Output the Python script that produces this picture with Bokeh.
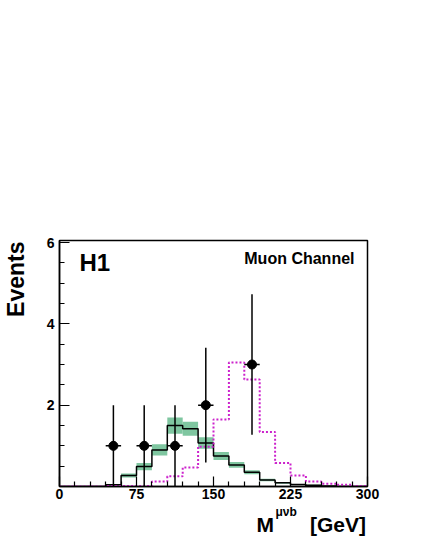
import math
from bokeh.plotting import figure
from bokeh.models import Range1d, FixedTicker, Label
from bokeh.layouts import row, column
from bokeh.embed import file_html
from bokeh.resources import INLINE

# ---- data ----
bin_edges = [0, 15, 30, 45, 60, 75, 90, 105, 120, 135, 150, 165, 180, 195, 210, 225, 240, 255, 270, 285, 300]
sm_values = [0.0, 0.0, 0.0, 0.04, 0.27, 0.49, 0.90, 1.50, 1.42, 1.07, 0.75, 0.53, 0.35, 0.16, 0.09, 0.05, 0.03, 0.01, 0.0, 0.0]
sm_errors = [0.0, 0.0, 0.0, 0.01, 0.05, 0.09, 0.14, 0.20, 0.17, 0.14, 0.10, 0.07, 0.05, 0.03, 0.02, 0.01, 0.01, 0.0, 0.0, 0.0]
sig_values = [0.0, 0.0, 0.0, 0.01, 0.01, 0.01, 0.12, 0.25, 0.47, 0.98, 1.65, 3.05, 2.63, 1.34, 0.58, 0.27, 0.12, 0.07, 0.04, 0.01]
data_x = [52.5, 82.5, 112.5, 142.5, 187.5]
data_y = [1, 1, 1, 2, 3]
data_err_lo = [1.0, 1.0, 1.0, 1.41, 1.73]
data_err_hi = [1.0, 1.0, 1.0, 1.41, 1.73]
bin_half = 7.5
x_major = [0, 75, 150, 225, 300]
x_minor = [15, 30, 45, 60, 90, 105, 120, 135, 165, 180, 195, 210, 240, 255, 270, 285]
y_major = [2, 4, 6]
y_minor = [0.5, 1, 1.5, 2.5, 3, 3.5, 4.5, 5, 5.5]

X0, X1 = 0, 300
Y0, Y1 = 0, 6.05
F = "Liberation Sans"

TOTAL_H = 537
LEFT_W = 30
MAIN_W = 381
MAIN_H = 504
STRIP_H = TOTAL_H - MAIN_H

p = figure(width=MAIN_W, height=MAIN_H, output_backend="svg", toolbar_location=None,
           x_range=Range1d(X0, X1), y_range=Range1d(Y0, Y1),
           min_border_left=29, min_border_right=44, min_border_top=240, min_border_bottom=18)
p.xgrid.visible = False
p.ygrid.visible = False
p.outline_line_color = "black"
p.outline_line_width = 1.5
p.background_fill_color = "white"
p.border_fill_color = "white"

# green band
lefts = bin_edges[:-1]
rights = bin_edges[1:]
bots = [v - e for v, e in zip(sm_values, sm_errors)]
tops = [v + e for v, e in zip(sm_values, sm_errors)]
p.quad(left=lefts, right=rights, bottom=bots, top=tops, fill_color="#7fc6a0", line_color=None)

# SM histogram
p.step(x=bin_edges, y=sm_values + [sm_values[-1]], mode="after", line_color="black", line_width=1.5)
# signal histogram
p.step(x=bin_edges, y=sig_values + [sig_values[-1]], mode="after", line_color="#cc22cc",
       line_width=2, line_dash="2 2")

# data with errors
p.segment(x0=data_x, x1=data_x, y0=[y - e for y, e in zip(data_y, data_err_lo)],
          y1=[y + e for y, e in zip(data_y, data_err_hi)], line_color="black", line_width=1.5)
p.segment(x0=[x - bin_half for x in data_x], x1=[x + bin_half for x in data_x], y0=data_y, y1=data_y,
          line_color="black", line_width=1.5)
p.scatter(data_x, data_y, size=9, color="black")

# axes
for ax in (p.xaxis[0], p.yaxis[0]):
    ax.major_tick_in = 10
    ax.major_tick_out = 0
    ax.minor_tick_in = 5
    ax.minor_tick_out = 0
    ax.axis_line_width = 1.5
    ax.major_tick_line_width = 1.2
    ax.minor_tick_line_width = 1.2
    ax.major_label_text_font = F
    ax.major_label_text_font_style = "bold"
    ax.major_label_text_font_size = "14px"
    ax.major_label_text_color = "black"
p.xaxis.ticker = FixedTicker(ticks=x_major, minor_ticks=x_minor)
p.yaxis.ticker = FixedTicker(ticks=y_major, minor_ticks=y_minor)
p.xaxis.major_label_standoff = 2
p.yaxis.major_label_standoff = 5


def lab(fig, x, y, text, size, align="left", angle=0.0):
    fig.add_layout(Label(x=x, y=y, x_units="screen", y_units="screen", text=text, angle=angle,
                         text_align=align, text_baseline="middle", text_font=F,
                         text_font_style="bold", text_font_size=size, text_color="black"))


def strip(w, h):
    f = figure(width=w, height=h, output_backend="svg", toolbar_location=None,
               x_axis_location=None, y_axis_location=None,
               min_border_left=0, min_border_right=0, min_border_top=0, min_border_bottom=0,
               x_range=Range1d(0, 1), y_range=Range1d(0, 1))
    f.grid.visible = False
    f.outline_line_color = None
    f.background_fill_color = "white"
    f.border_fill_color = "white"
    return f


# in-frame texts
lab(p, 20, 224, "H1", "24px")
lab(p, 295, 228, "Muon Channel", "16px", align="right")

# left strip: y-axis title
left = strip(LEFT_W, TOTAL_H)
lab(left, 15.5, TOTAL_H - 241, "Events", "23px", align="right", angle=math.pi / 2)

# bottom strip (its frame gets aligned with the main frame): x-axis title
bottom = strip(MAIN_W, STRIP_H)
lab(bottom, 197, 13, "M", "21px")
lab(bottom, 216, 25.5, "\u03bc\u03bdb", "12px")
lab(bottom, 306.5, 13, "[GeV]", "21px", align="right")

layout = row(left, column(p, bottom, spacing=0), spacing=0)

open("out.html", "w").write(file_html(layout, INLINE))
